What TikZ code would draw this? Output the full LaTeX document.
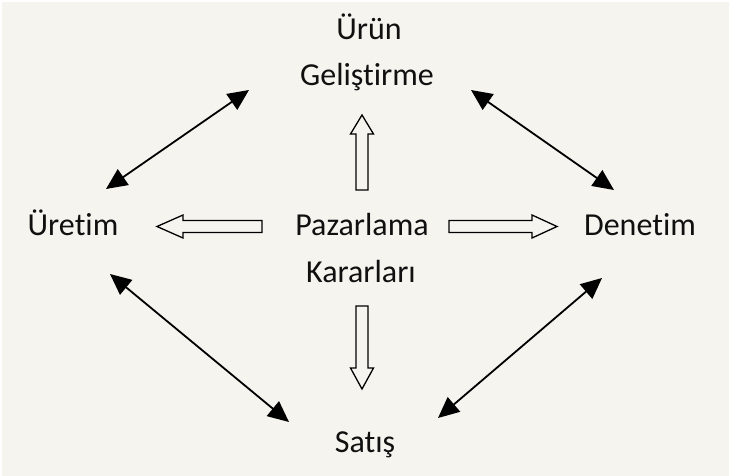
\documentclass[tikz,border=0pt]{standalone}
\usepackage{fontspec}
\setmainfont[Ligatures=CommonOff]{Carlito}
\usetikzlibrary{arrows.meta}
\definecolor{bgc}{HTML}{F5F4EE}
\definecolor{txt}{HTML}{101010}
\tikzset{
  lbl/.style={anchor=base, inner sep=0pt, text=txt, font=\fontsize{32}{46}\selectfont, align=center},
  dbl/.style={line width=1.8pt, black, {Triangle[length=21pt,width=19pt]}-{Triangle[length=21pt,width=19pt]}},
  hollow/.style={draw=black, fill=bgc, line width=1.3pt, line join=miter}
}
\begin{document}
\begin{tikzpicture}[x=1pt,y=-1pt]
\useasboundingbox (0,0) rectangle (729,476);
\fill[white] (0,0) rectangle (729,476);
\fill[bgc] (2,2) rectangle (729,476);
% labels
\node[lbl] (urun) at (369,40) {Ürün};
\node[lbl] (gel) at (367,86) {Geliştirme};
\node[lbl] (uretim) at (73,236) {Üretim};
\node[lbl] (denetim) at (640,236) {Denetim};
\node[lbl] (paz) at (362,236) {Pazarlama};
\node[lbl] (kar) at (361,283) {Kararları};
\node[lbl] (satis) at (365,452) {Satış};
% connector end points
\coordinate (tlA) at (106,189);
\coordinate (tlB) at (249,90);
\coordinate (trA) at (471,90);
\coordinate (trB) at (614,190);
\coordinate (blA) at (110,274);
\coordinate (blB) at (289,422);
\coordinate (brA) at (602,278);
\coordinate (brB) at (438,418);
\draw[dbl] (tlA) -- (tlB);
\draw[dbl] (trA) -- (trB);
\draw[dbl] (blA) -- (blB);
\draw[dbl] (brA) -- (brB);
% hollow block arrows
\draw[hollow] (362,115) -- (373.5,134) -- (368,134) -- (368,190) -- (356,190) -- (356,134) -- (350.5,134) -- cycle;
\draw[hollow] (362,389) -- (373.5,368) -- (368,368) -- (368,306) -- (356,306) -- (356,368) -- (350.5,368) -- cycle;
\draw[hollow] (157,226.5) -- (183,215) -- (183,220.5) -- (262,220.5) -- (262,232.5) -- (183,232.5) -- (183,238) -- cycle;
\draw[hollow] (557,226.5) -- (532,215) -- (532,220.5) -- (449,220.5) -- (449,232.5) -- (532,232.5) -- (532,238) -- cycle;
\end{tikzpicture}
\end{document}
